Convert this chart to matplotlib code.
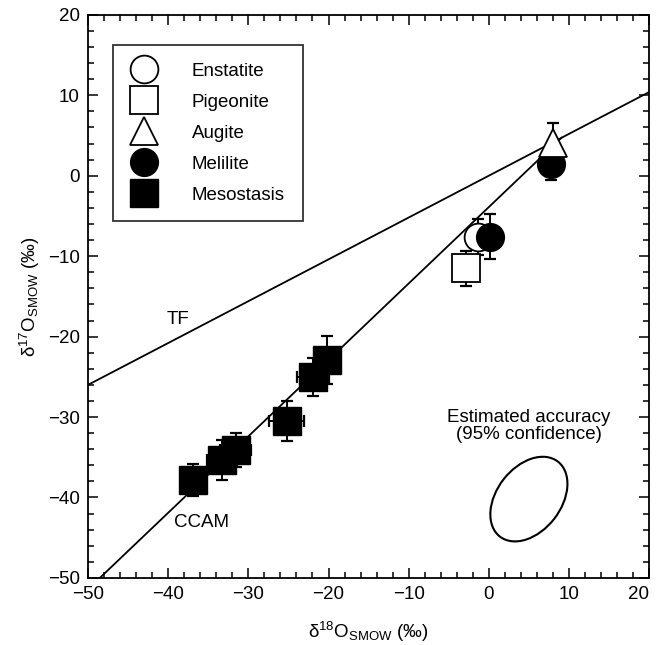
import matplotlib
matplotlib.use("Agg")
import matplotlib.pyplot as plt
from matplotlib.patches import Ellipse
import numpy as np

plt.rcParams['font.family'] = ['Liberation Sans', 'DejaVu Sans']
plt.rcParams['mathtext.fontset'] = 'custom'
plt.rcParams['mathtext.rm'] = 'Liberation Sans'
plt.rcParams['mathtext.it'] = 'Liberation Sans:italic'

# mineral data (delta18O, delta17O, errors)
enst_x = [-1.4]
enst_y = [-7.6]
enst_yerr = [2.2]

pig_x = [-2.9]
pig_y = [-11.5]
pig_yerr = [2.2]

aug_x = [8.0]
aug_y = [4.1]
aug_yerr = [2.5]

mel_x = [0.2, 7.7]
mel_y = [-7.6, 1.4]
mel_yerr = [2.8, 1.9]

meso_x = [-20.2, -21.9, -25.2, -31.6, -33.3, -36.9]
meso_y = [-22.9, -25.0, -30.5, -34.1, -35.3, -37.8]
meso_xerr = [1.5, 2.0, 2.2, 1.9, 1.9, 1.5]
meso_yerr = [3.0, 2.4, 2.5, 2.1, 2.5, 2.0]

# reference lines
tf_slope, tf_icpt = 0.52, 0.0
ccam_slope, ccam_icpt = 0.95, -3.9

# accuracy ellipse
ell_center = (5.0, -40.2)
ell_width, ell_height, ell_angle = 11.8, 8.0, 52

fs = 13.5

fig = plt.figure(figsize=(6.57, 6.45), dpi=100)
ax = fig.add_axes([0.134, 0.104, 0.854, 0.873])

# TF line across the whole plot
xt = np.array([-50, 20])
ax.plot(xt, tf_slope * xt + tf_icpt, color='black', lw=1.3, zorder=1)
# CCAM line up to where it meets TF
x_meet = (tf_icpt - ccam_icpt) / (ccam_slope - tf_slope)
xc = np.array([(-50 - ccam_icpt) / ccam_slope, x_meet])
ax.plot(xc, ccam_slope * xc + ccam_icpt, color='black', lw=1.3, zorder=1)

ebkw = dict(fmt='none', ecolor='black', elinewidth=1.4, capsize=4, capthick=1.6)
mk = 20

ax.errorbar(enst_x, enst_y, yerr=enst_yerr, zorder=2, **ebkw)
ax.plot(enst_x, enst_y, 'o', ms=mk, mfc='white', mec='black', mew=1.3,
        label='Enstatite', zorder=3)
ax.errorbar(pig_x, pig_y, yerr=pig_yerr, zorder=2, **ebkw)
ax.plot(pig_x, pig_y, 's', ms=mk, mfc='white', mec='black', mew=1.3,
        label='Pigeonite', zorder=3)
ax.errorbar(mel_x, mel_y, yerr=mel_yerr, zorder=4, **ebkw)
ax.plot(mel_x, mel_y, 'o', ms=mk, mfc='black', mec='black',
        label='Melilite', zorder=5)
ax.errorbar(aug_x, aug_y, yerr=aug_yerr, zorder=6, **ebkw)
ax.plot(aug_x, aug_y, '^', ms=mk, mfc='white', mec='black', mew=1.3,
        label='Augite', zorder=7)
ax.errorbar(meso_x, meso_y, xerr=meso_xerr, yerr=meso_yerr, zorder=4, **ebkw)
ax.plot(meso_x, meso_y, 's', ms=mk, mfc='black', mec='black',
        label='Mesostasis', zorder=5)

ax.add_patch(Ellipse(ell_center, ell_width, ell_height, angle=ell_angle,
                     fill=False, ec='black', lw=1.5))
ax.text(5.0, -31.1, 'Estimated accuracy\n(95% confidence)', ha='center',
        va='center', fontsize=fs, linespacing=1.05)
ax.text(-38.8, -17.9, 'TF', ha='center', va='center', fontsize=fs)
ax.text(-35.9, -43.1, 'CCAM', ha='center', va='center', fontsize=fs)

handles, labels = ax.get_legend_handles_labels()
order = ['Enstatite', 'Pigeonite', 'Augite', 'Melilite', 'Mesostasis']
hmap = dict(zip(labels, handles))
leg = ax.legend([hmap[k] for k in order], order, loc='upper left',
                bbox_to_anchor=(0.0446, 0.947), borderaxespad=0,
                fontsize=fs, frameon=True, fancybox=False, numpoints=1,
                handlelength=1.41, handletextpad=1.85, labelspacing=0.74,
                borderpad=0.95, markerscale=1.0)
leg.get_frame().set_edgecolor('black')
leg.get_frame().set_linewidth(1.3)
leg.set_zorder(10)

ax.set_xlim(-50, 20)
ax.set_ylim(-50, 20)
ax.set_xticks(np.arange(-50, 21, 10))
ax.set_yticks(np.arange(-50, 21, 10))
ax.set_xticks(np.arange(-50, 21, 2), minor=True)
ax.set_yticks(np.arange(-50, 21, 2), minor=True)
ax.tick_params(which='both', direction='in', top=True, right=True,
               labelsize=fs, width=1.1)
ax.tick_params(which='major', length=7, pad=6)
ax.tick_params(which='minor', length=4)
for s in ax.spines.values():
    s.set_linewidth(1.3)
# keep the last x tick label inside the figure
ax.get_xticklabels()[-1].set_horizontalalignment('right')

ax.set_xlabel('δ$^{18}$O$_{\\mathrm{SMOW}}$ (‰)', fontsize=fs, labelpad=12)
ax.set_ylabel('δ$^{17}$O$_{\\mathrm{SMOW}}$ (‰)', fontsize=fs, labelpad=4)

fig.savefig('out.png', dpi=100)
